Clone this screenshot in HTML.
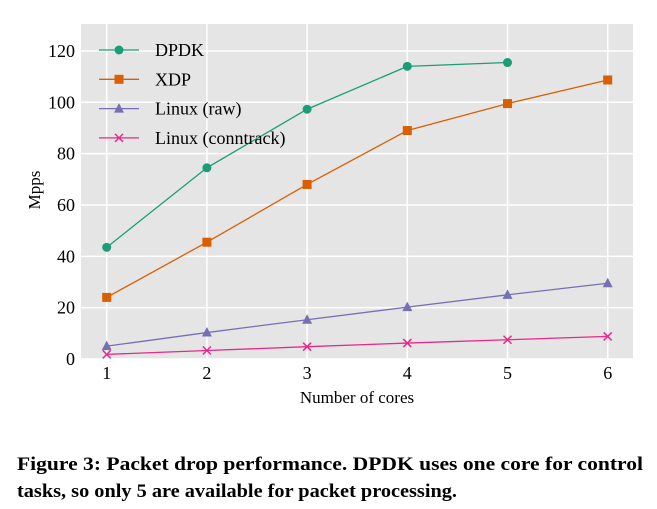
<!DOCTYPE html>
<html><head><meta charset="utf-8"><style>
body{margin:0;background:#fff;}
svg{display:block;font-family:"Liberation Serif",serif;}
</style></head><body>
<svg id="chart" width="657" height="509" viewBox="0 0 657 509">
<rect x="81" y="24" width="552" height="335" fill="#e5e5e5"/>
<g id="grid"></g>
<g id="series"></g>
<g id="legend"></g>
<text transform="translate(40,190) rotate(-90)" text-anchor="middle" font-size="17">Mpps</text>
<text x="357" y="403" text-anchor="middle" font-size="17">Number of cores</text>
<text x="17" y="470" font-size="19" font-weight="bold" textLength="626" lengthAdjust="spacingAndGlyphs">Figure 3:  Packet drop performance. DPDK uses one core for control</text>
<text x="17" y="497" font-size="19" font-weight="bold" textLength="440" lengthAdjust="spacingAndGlyphs">tasks, so only 5 are available for packet processing.</text>
</svg>
<script>
const cores=[1,2,3,4,5,6];
const yTicks=[0,20,40,60,80,100,120];
const dpdk=[43.5,74.5,97.3,114,115.5];
const xdp=[24,45.5,68,89,99.5,108.7];
const linuxRaw=[5,10.3,15.3,20.2,25,29.5];
const linuxConntrack=[1.8,3.3,4.8,6.2,7.5,8.8];
const seriesNames=["DPDK","XDP","Linux (raw)","Linux (conntrack)"];
const NS="http://www.w3.org/2000/svg";
const xS=v=>106.7+(v-1)*100.2;
const yS=v=>359-v*2.567;
function mk(t,a,p){const e=document.createElementNS(NS,t);for(const k in a)e.setAttribute(k,a[k]);p.appendChild(e);return e;}
const grid=document.getElementById('grid');
yTicks.forEach(t=>{
  const l=mk('line',{x1:81,x2:633,y1:yS(t),y2:yS(t),stroke:'#fff','stroke-width':1.5},grid);
  
  
  const tx=mk('text',{x:75,y:yS(t)+6,'text-anchor':'end','font-size':18},grid);
  
  
  tx.textContent=t;
});
cores.forEach(c=>{
  const l=mk('line',{x1:xS(c),x2:xS(c),y1:24,y2:359,stroke:'#fff','stroke-width':1.5},grid);
  
  
  const tx=mk('text',{x:xS(c),y:379,'text-anchor':'middle','font-size':18},grid);
  
  
  tx.textContent=c;
});
const colors=["#1b9e77","#d95f02","#7570b3","#e7298a"];
const shapes=["circle","square","triangle","cross"];
function marker(shape,x,y,c,p){
  let e;
  if(shape==="circle")e=mk('circle',{cx:x,cy:y,r:4.5,fill:c},p);
  else if(shape==="square")e=mk('rect',{x:x-4.5,y:y-4.5,width:9,height:9,fill:c},p);
  else if(shape==="triangle")e=mk('polygon',{points:`${x},${y-5.5} ${x+5},${y+4} ${x-5},${y+4}`,fill:c},p);
  else e=mk('path',{d:`M${x-4},${y-4}L${x+4},${y+4}M${x-4},${y+4}L${x+4},${y-4}`,stroke:c,'stroke-width':1.5,fill:'none'},p);
  return e;
}
const sg=document.getElementById('series');
[dpdk,xdp,linuxRaw,linuxConntrack].forEach((vals,i)=>{
  const g=mk('g',{},sg);
  
  
  const pts=vals.map((v,j)=>xS(cores[j])+','+yS(v)).join(' ');
  const pl=mk('polyline',{points:pts,fill:'none',stroke:colors[i],'stroke-width':1.3},g);
  
  
  vals.forEach((v,j)=>{
    const m=marker(shapes[i],xS(cores[j]),yS(v),colors[i],g);
    
    
  });
});
const lg=document.getElementById('legend');
seriesNames.forEach((n,i)=>{
  const y=50+i*29.3;
  const g=mk('g',{},lg);
  
  
  mk('line',{x1:99,x2:139,y1:y,y2:y,stroke:colors[i],'stroke-width':1.3},g);
  marker(shapes[i],119,y,colors[i],g);
  const t=mk('text',{x:155,y:y+6,'font-size':18},g);
  t.textContent=n;
});
</script>
</body></html>
